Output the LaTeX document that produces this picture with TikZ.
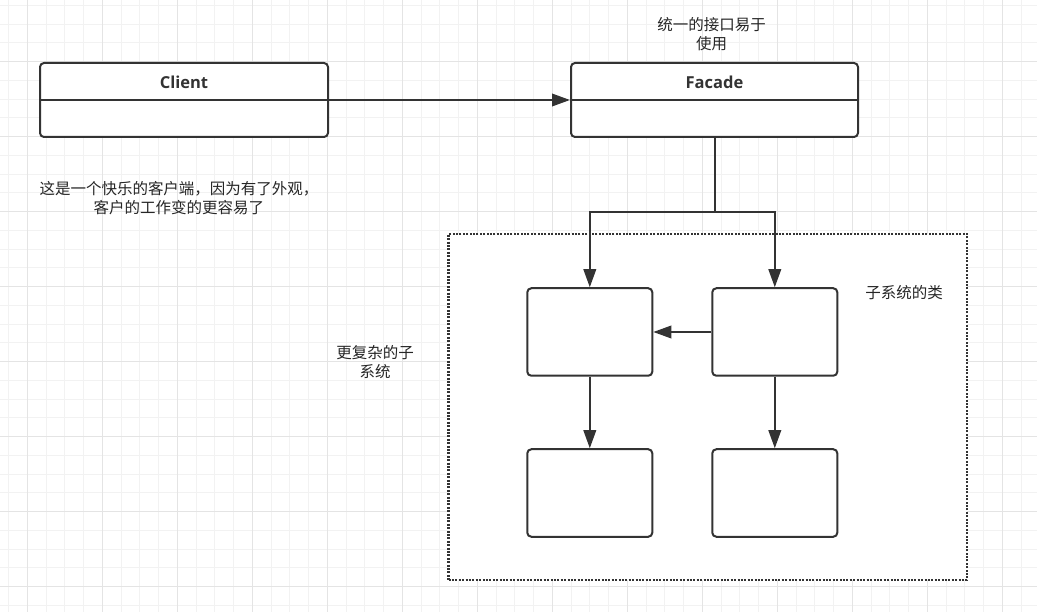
\documentclass[tikz,border=0pt]{standalone}
\usepackage{fontspec}
\setmainfont{Open Sans}
\newfontfamily\cjk{Noto Sans CJK SC}
\usetikzlibrary{arrows.meta}
\definecolor{ln}{HTML}{333333}
\definecolor{gmin}{HTML}{F2F2F2}
\definecolor{gmaj}{HTML}{E4E4E4}
\begin{document}
\begin{tikzpicture}[x=1pt,y=-1pt,
  umlbox/.style={draw=ln, line width=2pt, fill=white, rounded corners=4pt, minimum width=288pt, minimum height=74pt, inner sep=0pt},
  subbox/.style={draw=ln, line width=2pt, fill=white, rounded corners=4pt, minimum width=125pt, minimum height=87.5pt, inner sep=0pt},
  dotbox/.style={draw=ln, line width=2.2pt, fill=white, dash pattern=on 2pt off 1.4pt, minimum width=518.5pt, minimum height=346pt, inner sep=0pt},
  title/.style={font=\fontsize{16.5}{19}\selectfont\bfseries, text=ln, inner sep=0pt},
  note/.style={font=\cjk\fontsize{15.5}{19.5}\selectfont, text=black!85, align=center, inner sep=0pt},
  conn/.style={draw=ln, line width=2pt},
  arr/.style={conn, -{Triangle[length=18pt, width=12.5pt]}}
]
\useasboundingbox (0,0) rectangle (1037,612);
\fill[white] (0,0) rectangle (1037,612);
% grid
\foreach \k in {-1,...,53} \draw[gmin, line width=1pt] ({27.3+18.75*\k},0) -- ({27.3+18.75*\k},612);
\foreach \k in {-3,...,29} \draw[gmin, line width=1pt] (0,{61.7+18.75*\k}) -- (1037,{61.7+18.75*\k});
\foreach \k in {0,4,...,52} \draw[gmaj, line width=1pt] ({27.3+18.75*\k},0) -- ({27.3+18.75*\k},612);
\foreach \k in {0,4,...,28} \draw[gmaj, line width=1pt] (0,{61.7+18.75*\k}) -- (1037,{61.7+18.75*\k});

% top boxes
\node[umlbox] (client) at (184,100) {};
\draw[conn] (client.west) -- (client.east);
\node[title] (clientT) at (184,82) {Client};
\node[umlbox, minimum width=287pt] (facade) at (714.5,100) {};
\draw[conn] (facade.west) -- (facade.east);
\node[title] (facadeT) at (714.5,82) {Facade};
\draw[arr] (client.east) -- (facade.west);

% subsystem area
\node[dotbox] (sys) at (707.75,407) {};
\node[subbox] (a) at (589.8,332) {};
\node[subbox] (b) at (774.8,332) {};
\node[subbox] (c) at (589.8,493) {};
\node[subbox] (d) at (774.8,493) {};

\coordinate (j) at (714.5,212);
\draw[conn] (facade.south) -- (j);
\draw[arr] (j) -| (a.north);
\draw[arr] (j) -| (b.north);
\draw[arr] (b.west) -- (a.east);
\draw[arr] (a.south) -- (c.north);
\draw[arr] (b.south) -- (d.north);

% texts
\node[note] (t1) at (711.5,34) {统一的接口易于\\使用};
\node[note] (t2) at (179,198) {这是一个快乐的客户端，因为有了外观，\\客户的工作变的更容易了};
\node[note] (t3) at (904,293) {子系统的类};
\node[note] (t4) at (375,362) {更复杂的子\\系统};
\end{tikzpicture}
\end{document}
